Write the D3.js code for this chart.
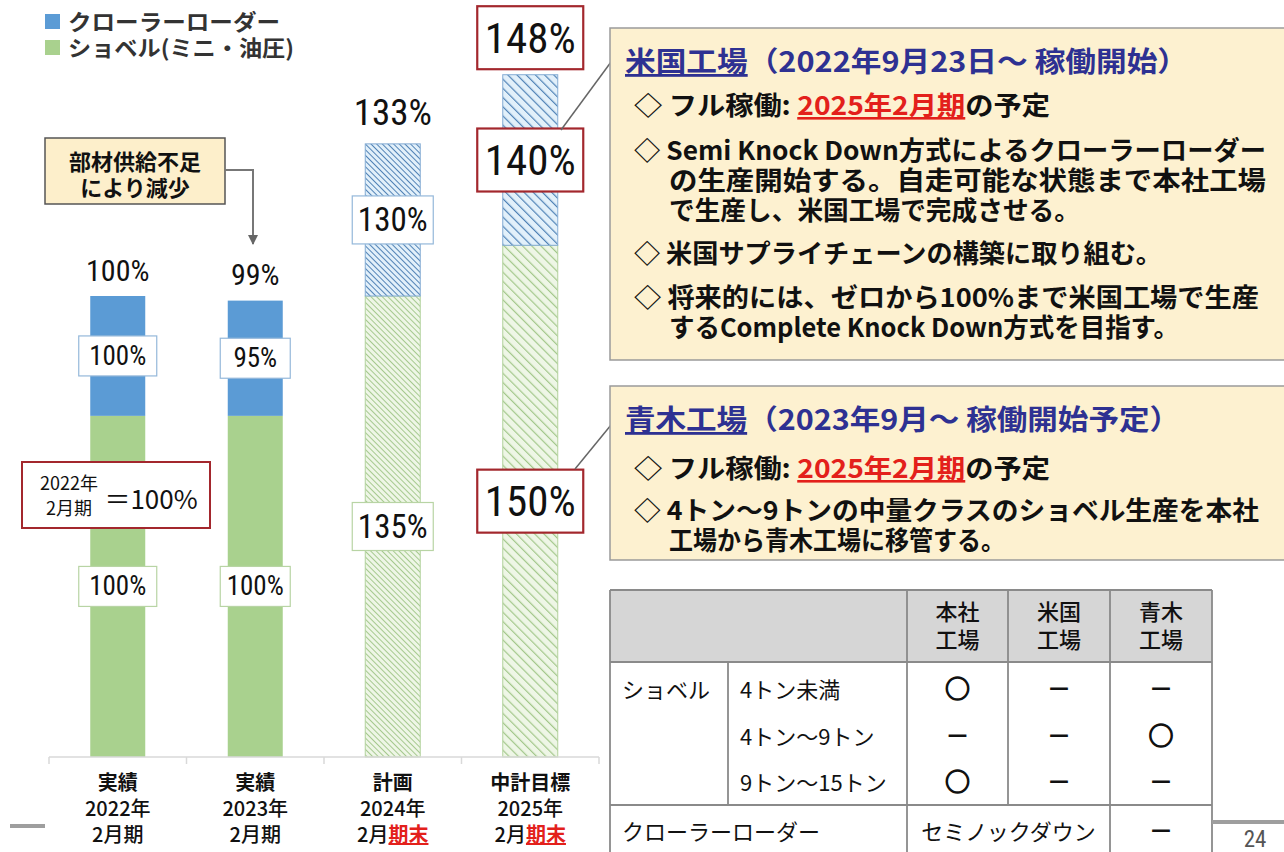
<!DOCTYPE html>
<html>
<head>
<meta charset="utf-8">
<script src="https://cdn.jsdelivr.net/npm/d3@7"></script>
<style>
  body { margin: 0; background: #fff; }
  svg { display: block; }
  text { font-family: "Noto Sans CJK JP", "Noto Sans", sans-serif; }
  .num { font-family: "Liberation Sans Narrow", "Roboto Condensed", "Liberation Sans", "Noto Sans CJK JP", sans-serif; }
</style>
</head>
<body>
<script>
// ---- data ----
var catLine1 = ["実績", "実績", "計画", "中計目標"];
var catLine2 = ["2022年", "2023年", "2024年", "2025年"];
var catLine3 = ["2月期", "2月期", "2月", "2月"];
var catLine3Red = ["", "", "期末", "期末"];

// bar heights (share of 2022 total = 100)
var shovelShare = [74, 74, 100, 111];
var crawlerShare = [26, 25, 33, 37];
// labels written on the bars (each relative to its own 2022 level)
var shovelIndex = ["100%", "100%", "135%", "150%"];
var crawlerIndex = ["100%", "95%", "130%", "140%"];
var totalLabels = ["100%", "99%", "133%", "148%"];
var isPlan = [false, false, true, true];

var tableCols = ["本社", "米国", "青木"];
var tableRows = [
  ["ショベル", "4トン未満", "○", "－", "－"],
  ["", "4トン～9トン", "－", "－", "○"],
  ["", "9トン～15トン", "○", "－", "－"]
];

var W = 1284, H = 852;
var svg = d3.select("body").append("svg").attr("width", W).attr("height", H);

var blue = "#5b9bd5", green = "#a9d18e";
var defs = svg.append("defs");
function hatch(id, bg, fg, size, sw) {
  var p = defs.append("pattern").attr("id", id)
    .attr("patternUnits", "userSpaceOnUse")
    .attr("width", size).attr("height", size)
    .attr("patternTransform", "rotate(-45)");
  p.append("rect").attr("width", size).attr("height", size).attr("fill", bg);
  p.append("line").attr("x1", 0).attr("y1", 0).attr("x2", 0).attr("y2", size)
    .attr("stroke", fg).attr("stroke-width", sw);
}
hatch("hb1", "#e2f0fa", "#4a7db3", 4, 1.9);
hatch("hg1", "#eef6e6", "#9ec485", 4, 1.8);
hatch("hb2", "#e2f0fa", "#4f82b6", 6.5, 2.4);
hatch("hg2", "#eef6e6", "#a2c78a", 6.5, 2.4);

// ---- scales ----
var x = d3.scaleBand().domain(d3.range(4)).range([49, 599]).paddingInner(0.6).paddingOuter(0.3);
var y = d3.scaleLinear().domain([0, 100]).range([757, 296]);

var rows = d3.range(4).map(function (i) { return { shovel: shovelShare[i], crawler: crawlerShare[i], i: i }; });
var stack = d3.stack().keys(["shovel", "crawler"])(rows);

function fillFor(key, i) {
  if (!isPlan[i]) return key === "shovel" ? green : blue;
  var k = key === "shovel" ? "hg" : "hb";
  return "url(#" + k + (i === 2 ? "1" : "2") + ")";
}

svg.append("g").selectAll("g").data(stack).enter().append("g")
  .each(function (layer) {
    d3.select(this).selectAll("rect").data(layer).enter().append("rect")
      .attr("x", function (d) { return x(d.data.i); })
      .attr("width", x.bandwidth())
      .attr("y", function (d) { return y(d[1]); })
      .attr("height", function (d) { return y(d[0]) - y(d[1]); })
      .attr("fill", function (d) { return fillFor(layer.key, d.data.i); })
      .attr("stroke", function (d) {
        if (!isPlan[d.data.i]) return "none";
        return layer.key === "shovel" ? "#b3d29d" : "#84acd4";
      })
      .attr("stroke-width", 1);
  });

// ---- axis ----
var axisY = y(0);
svg.append("line").attr("x1", 49).attr("x2", 599).attr("y1", axisY).attr("y2", axisY)
  .attr("stroke", "#d9d9d9").attr("stroke-width", 1.5);
svg.append("g").selectAll("line").data(d3.range(5)).enter().append("line")
  .attr("x1", function (d) { return 49 + d * x.step(); })
  .attr("x2", function (d) { return 49 + d * x.step(); })
  .attr("y1", axisY).attr("y2", axisY + 7)
  .attr("stroke", "#d9d9d9").attr("stroke-width", 1.5);

var cat = svg.append("g").attr("text-anchor", "middle").attr("font-size", 20).attr("fill", "#111");
d3.range(4).forEach(function (i) {
  var cx = x(i) + x.bandwidth() / 2;
  cat.append("text").attr("x", cx).attr("y", 790).attr("font-weight", 700).text(catLine1[i]);
  cat.append("text").attr("x", cx).attr("y", 816).attr("font-weight", 500).text(catLine2[i]);
  var t = cat.append("text").attr("x", cx).attr("y", 842).attr("font-weight", 500);
  t.append("tspan").text(catLine3[i]);
  if (catLine3Red[i]) {
    t.append("tspan").attr("fill", "#e3201b").attr("font-weight", 700)
      .attr("text-decoration", "underline").text(catLine3Red[i]);
  }
});

// ---- labels on bars ----
var labelStyle = [
  { fs: 27, w: 78, h: 40, tfs: 30, off: 26, red: false },
  { fs: 27, w: 70, h: 40, tfs: 30, off: 26, red: false },
  { fs: 33, w: 81, h: 48, tfs: 37, off: 31, red: false },
  { fs: 43, w: 106, h: 63, tfs: 43, off: 37, red: true }
];

function boxLabel(cx, cy, txt, st, border) {
  var g = svg.append("g");
  g.append("rect").attr("x", cx - st.w / 2).attr("y", cy - st.h / 2)
    .attr("width", st.w).attr("height", st.h).attr("fill", "#fff")
    .attr("stroke", st.red ? "#a3272d" : border).attr("stroke-width", st.red ? 2.2 : 1.2);
  g.append("text").attr("class", "num").attr("x", cx).attr("y", cy)
    .attr("text-anchor", "middle").attr("dominant-baseline", "central")
    .attr("font-size", st.fs).attr("fill", "#111").text(txt);
}

stack.forEach(function (layer) {
  layer.forEach(function (d) {
    var i = d.data.i, st = labelStyle[i];
    var cx = x(i) + x.bandwidth() / 2;
    var cy = (y(d[0]) + y(d[1])) / 2;
    if (layer.key === "shovel") boxLabel(cx, cy, shovelIndex[i], st, "#b8d4a4");
    else boxLabel(cx, cy, crawlerIndex[i], st, "#94b8da");
  });
});

d3.range(4).forEach(function (i) {
  var st = labelStyle[i];
  var cx = x(i) + x.bandwidth() / 2;
  var cy = y(shovelShare[i] + crawlerShare[i]) - st.off;
  if (st.red) {
    boxLabel(cx, cy, totalLabels[i], st, "#a3272d");
  } else {
    svg.append("text").attr("class", "num").attr("x", cx).attr("y", cy)
      .attr("text-anchor", "middle").attr("dominant-baseline", "central")
      .attr("font-size", st.tfs).attr("fill", "#111").text(totalLabels[i]);
  }
});

// ---- legend ----
var legend = [["クローラーローダー", blue], ["ショベル(ミニ・油圧)", green]];
var lg = svg.append("g");
legend.forEach(function (l, k) {
  lg.append("rect").attr("x", 45).attr("y", 14 + k * 26).attr("width", 15).attr("height", 15).attr("fill", l[1]);
  lg.append("text").attr("x", 68).attr("y", 30 + k * 26).attr("font-size", 22).attr("font-weight", 700)
    .attr("fill", "#333").attr("textLength", k ? 226 : 212).attr("lengthAdjust", "spacingAndGlyphs").text(l[0]);
});

// ---- callout: shortage ----
svg.append("rect").attr("x", 45).attr("y", 138).attr("width", 180).attr("height", 66)
  .attr("fill", "#fdefcb").attr("stroke", "#555").attr("stroke-width", 1.5);
svg.append("text").attr("x", 135).attr("y", 170).attr("text-anchor", "middle")
  .attr("font-size", 22).attr("font-weight", 700).attr("fill", "#111").text("部材供給不足");
svg.append("text").attr("x", 135).attr("y", 196).attr("text-anchor", "middle")
  .attr("font-size", 22).attr("font-weight", 700).attr("fill", "#111").text("により減少");
defs.append("marker").attr("id", "arr").attr("viewBox", "0 0 10 10").attr("refX", 9).attr("refY", 5)
  .attr("markerWidth", 5).attr("markerHeight", 5).attr("orient", "auto")
  .append("path").attr("d", "M0,0L10,5L0,10z").attr("fill", "#666");
svg.append("path").attr("d", "M225,170H253V244").attr("fill", "none")
  .attr("stroke", "#777").attr("stroke-width", 2).attr("marker-end", "url(#arr)");

// ---- base note ----
svg.append("rect").attr("x", 22).attr("y", 462).attr("width", 188).attr("height", 66)
  .attr("fill", "#fff").attr("stroke", "#a3272d").attr("stroke-width", 2);
svg.append("text").attr("x", 69).attr("y", 490).attr("text-anchor", "middle").attr("font-size", 18).attr("fill", "#111").text("2022年");
svg.append("text").attr("x", 69).attr("y", 515).attr("text-anchor", "middle").attr("font-size", 18).attr("fill", "#111").text("2月期");
svg.append("text").attr("x", 151).attr("y", 497).attr("text-anchor", "middle").attr("dominant-baseline", "central")
  .attr("font-size", 26).attr("fill", "#111").text("＝100%");

// ---- leader lines ----
svg.append("line").attr("x1", 561).attr("y1", 130).attr("x2", 611).attr("y2", 62).attr("stroke", "#666").attr("stroke-width", 1.5);
svg.append("line").attr("x1", 575).attr("y1", 469).attr("x2", 611).attr("y2", 425).attr("stroke", "#666").attr("stroke-width", 1.5);

// ---- right panels ----
var navy = "#2e3192", red = "#e3201b";
function panel(top, h, title, titleRest, titleW, lines) {
  svg.append("rect").attr("x", 610).attr("y", top).attr("width", 700).attr("height", h)
    .attr("fill", "#fdf1d0").attr("stroke", "#9a9a9a").attr("stroke-width", 1.5);
  var t = svg.append("text").attr("x", 625).attr("y", top + 44).attr("font-size", 28)
    .attr("font-weight", 700).attr("fill", navy)
    .attr("textLength", titleW).attr("lengthAdjust", "spacingAndGlyphs");
  t.append("tspan").attr("text-decoration", "underline").text(title);
  t.append("tspan").text(titleRest);
  lines.forEach(function (l) {
    var tx = svg.append("text").attr("x", l.x).attr("y", top + l.dy).attr("font-size", 26)
      .attr("font-weight", 700).attr("fill", "#111")
      .attr("textLength", l.w).attr("lengthAdjust", "spacingAndGlyphs");
    l.parts.forEach(function (p) {
      var s = tx.append("tspan").text(p[0]);
      if (p[1]) s.attr("fill", red).attr("text-decoration", "underline");
    });
  });
}
panel(28, 332, "米国工場", "（2022年9月23日～ 稼働開始）", 563, [
  { x: 634, dy: 87, w: 416, parts: [["◇ フル稼働: "], ["2025年2月期", true], ["の予定"]] },
  { x: 634, dy: 132, w: 632, parts: [["◇ Semi Knock Down方式によるクローラーローダー"]] },
  { x: 669, dy: 162, w: 597, parts: [["の生産開始する。自走可能な状態まで本社工場"]] },
  { x: 669, dy: 192, w: 411, parts: [["で生産し、米国工場で完成させる。"]] },
  { x: 634, dy: 235, w: 528, parts: [["◇ 米国サプライチェーンの構築に取り組む。"]] },
  { x: 634, dy: 279, w: 625, parts: [["◇ 将来的には、ゼロから100%まで米国工場で生産"]] },
  { x: 669, dy: 309, w: 510, parts: [["するComplete Knock Down方式を目指す。"]] }
]);
panel(386, 174, "青木工場", "（2023年9月～ 稼働開始予定）", 555, [
  { x: 634, dy: 92, w: 416, parts: [["◇ フル稼働: "], ["2025年2月期", true], ["の予定"]] },
  { x: 634, dy: 134, w: 625, parts: [["◇ 4トン～9トンの中量クラスのショベル生産を本社"]] },
  { x: 669, dy: 164, w: 336, parts: [["工場から青木工場に移管する。"]] }
]);

// ---- table ----
var colX = [610, 728, 907, 1008, 1110, 1212];
var tb = svg.append("g").attr("font-size", 22).attr("fill", "#111");
tb.append("rect").attr("x", 610).attr("y", 590).attr("width", 602).attr("height", 72).attr("fill", "#d6d6d6");
tb.append("rect").attr("x", 610).attr("y", 662).attr("width", 602).attr("height", 200).attr("fill", "#fff");
tableCols.forEach(function (c, k) {
  var cx = (colX[k + 2] + colX[k + 3]) / 2;
  tb.append("text").attr("x", cx).attr("y", 620).attr("text-anchor", "middle").attr("font-weight", 500).text(c);
  tb.append("text").attr("x", cx).attr("y", 648).attr("text-anchor", "middle").attr("font-weight", 500).text("工場");
});
var rowY = [690, 737, 783];
tableRows.forEach(function (r, k) {
  tb.append("text").attr("x", 622).attr("y", rowY[k] + 8).text(r[0]);
  tb.append("text").attr("x", 740).attr("y", rowY[k] + 8).text(r[1]);
  r.slice(2).forEach(function (v, j) {
    tb.append("text").attr("x", (colX[j + 2] + colX[j + 3]) / 2).attr("y", rowY[k] + 8)
      .attr("text-anchor", "middle").attr("font-size", 25).attr("font-weight", 700)
      .attr("stroke", v === "○" ? "#111" : "none").attr("stroke-width", 1.3).text(v);
  });
});
tb.append("text").attr("x", 622).attr("y", 840).text("クローラーローダー");
tb.append("text").attr("x", (colX[2] + colX[4]) / 2).attr("y", 840).attr("text-anchor", "middle").text("セミノックダウン");
tb.append("text").attr("x", (colX[4] + colX[5]) / 2).attr("y", 840).attr("text-anchor", "middle")
  .attr("font-size", 25).attr("font-weight", 700).text("－");

var lc = "#8a8a8a";
[590, 662, 805].forEach(function (yy) {
  tb.append("line").attr("x1", 610).attr("x2", 1212).attr("y1", yy).attr("y2", yy).attr("stroke", lc).attr("stroke-width", 1.8);
});
[[610, 860], [907, 860], [1008, 805], [1110, 860], [1212, 860]].forEach(function (v) {
  tb.append("line").attr("x1", v[0]).attr("x2", v[0]).attr("y1", 590).attr("y2", v[1]).attr("stroke", lc).attr("stroke-width", 1.8);
});
tb.append("line").attr("x1", 728).attr("x2", 728).attr("y1", 662).attr("y2", 805).attr("stroke", lc).attr("stroke-width", 1.8);

// ---- footer ----
svg.append("line").attr("x1", 10).attr("x2", 45).attr("y1", 826).attr("y2", 826).attr("stroke", "#9e9e9e").attr("stroke-width", 4);
svg.append("line").attr("x1", 1212).attr("x2", 1284).attr("y1", 822).attr("y2", 822).attr("stroke", "#9e9e9e").attr("stroke-width", 4);
svg.append("text").attr("class", "num").attr("x", 1255).attr("y", 847).attr("text-anchor", "middle")
  .attr("font-size", 23).attr("fill", "#555").text("24");
</script>
</body>
</html>
